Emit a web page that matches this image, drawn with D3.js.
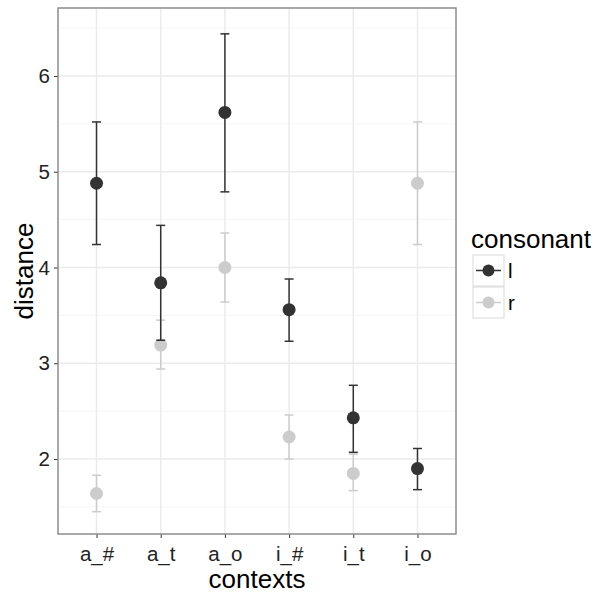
<!DOCTYPE html>
<html>
<head>
<meta charset="utf-8">
<script src="https://cdn.jsdelivr.net/npm/d3@7"></script>
<style>
  body { margin: 0; background: #fff; }
  text { font-family: "Liberation Sans", Arial, sans-serif; }
</style>
</head>
<body>
<svg id="vis"></svg>
<script>
// contexts on the x axis
const contexts = ["a_#", "a_t", "a_o", "i_#", "i_t", "i_o"];
const consonants = ["l", "r"];

// mean distance + error bar limits per consonant
const lMean  = [4.88, 3.84, 5.62, 3.56, 2.43, 1.90];
const lLower = [4.24, 3.24, 4.79, 3.23, 2.07, 1.68];
const lUpper = [5.52, 4.44, 6.44, 3.88, 2.77, 2.11];

const rMean  = [1.64, 3.19, 4.00, 2.23, 1.85, 4.88];
const rLower = [1.45, 2.94, 3.64, 2.00, 1.67, 4.24];
const rUpper = [1.83, 3.45, 4.36, 2.46, 2.05, 5.52];

const yTicks = [2, 3, 4, 5, 6];
const yMinor = [1.5, 2.5, 3.5, 4.5, 5.5, 6.5];

const colors = {l: "#333333", r: "#cccccc"};

const W = 598, H = 597;
const panel = {left: 58, top: 8, right: 456, bottom: 534};

let svg = d3.select("#vis").attr("width", W).attr("height", H);

// discrete x scale with ggplot's 0.6 expansion
let x = d3.scaleLinear()
    .domain([0.4, contexts.length + 0.6])
    .range([panel.left, panel.right]);
let y = d3.scaleLinear()
    .domain([1.217, 6.71])
    .range([panel.bottom, panel.top]);

// grid
let grid = svg.append("g");
grid.selectAll(".minor").data(yMinor).enter().append("line")
    .attr("x1", panel.left).attr("x2", panel.right)
    .attr("y1", d => y(d)).attr("y2", d => y(d))
    .attr("stroke", "#f5f5f5").attr("stroke-width", 1);
grid.selectAll(".majorY").data(yTicks).enter().append("line")
    .attr("x1", panel.left).attr("x2", panel.right)
    .attr("y1", d => y(d)).attr("y2", d => y(d))
    .attr("stroke", "#ebebeb").attr("stroke-width", 1.5);
grid.selectAll(".majorX").data(contexts).enter().append("line")
    .attr("x1", (d, i) => x(i + 1)).attr("x2", (d, i) => x(i + 1))
    .attr("y1", panel.top).attr("y2", panel.bottom)
    .attr("stroke", "#ebebeb").attr("stroke-width", 1.5);

// axes
let yAxis = d3.axisLeft(y).tickValues(yTicks).tickSize(4).tickPadding(4).tickFormat(d3.format("d"));
let gy = svg.append("g").attr("transform", "translate(" + panel.left + ",0)").call(yAxis);
let xAxis = d3.axisBottom(x).tickValues(contexts.map((d, i) => i + 1)).tickSize(4).tickPadding(8)
    .tickFormat(d => contexts[d - 1]);
let gx = svg.append("g").attr("transform", "translate(0," + panel.bottom + ")").call(xAxis);
[gx, gy].forEach(function(g){
    g.select(".domain").remove();
    g.selectAll(".tick line").attr("stroke", "#333333");
    g.selectAll(".tick text").attr("fill", "#222").attr("font-size", "20.5px")
        .style("font-family", "Liberation Sans, Arial, sans-serif");
});
gx.selectAll(".tick text").attr("dy", "0.72em");

// series
let series = [
    {name: "l", mean: lMean, lo: lLower, hi: lUpper},
    {name: "r", mean: rMean, lo: rLower, hi: rUpper}
];
let capHalf = (x(1.07) - x(1));

// draw light (r) first then dark (l) on top
series.slice().reverse().forEach(function(s){
    let g = svg.append("g");
    let col = colors[s.name];
    contexts.forEach(function(c, i){
        let cx = x(i + 1);
        g.append("line").attr("x1", cx).attr("x2", cx)
            .attr("y1", y(s.lo[i])).attr("y2", y(s.hi[i]))
            .attr("stroke", col).attr("stroke-width", 1.5);
        [s.lo[i], s.hi[i]].forEach(function(v){
            g.append("line").attr("x1", cx - capHalf).attr("x2", cx + capHalf)
                .attr("y1", y(v)).attr("y2", y(v))
                .attr("stroke", col).attr("stroke-width", 1.5);
        });
        g.append("circle").attr("cx", cx).attr("cy", y(s.mean[i]))
            .attr("r", 6.5).attr("fill", col);
    });
});

// panel border
svg.append("rect")
    .attr("x", panel.left).attr("y", panel.top)
    .attr("width", panel.right - panel.left).attr("height", panel.bottom - panel.top)
    .attr("fill", "none").attr("stroke", "#8c8c8c").attr("stroke-width", 1.5);

// axis titles
svg.append("text").attr("x", (panel.left + panel.right) / 2).attr("y", 588)
    .attr("text-anchor", "middle").attr("font-size", "26px").text("contexts");
svg.append("text").attr("transform", "translate(33," + ((panel.top + panel.bottom) / 2) + ") rotate(-90)")
    .attr("text-anchor", "middle").attr("font-size", "26px").text("distance");

// legend
let legend = svg.append("g");
legend.append("text").attr("x", 471).attr("y", 248).attr("font-size", "26px").text("consonant");
consonants.forEach(function(c, i){
    let ky = 255 + i * 32;
    legend.append("rect").attr("x", 473).attr("y", ky).attr("width", 31).attr("height", 31)
        .attr("fill", "#fff").attr("stroke", "#d9d9d9").attr("stroke-width", 1);
    legend.append("line").attr("x1", 476).attr("x2", 501)
        .attr("y1", ky + 15.5).attr("y2", ky + 15.5)
        .attr("stroke", colors[c]).attr("stroke-width", 1.5);
    legend.append("circle").attr("cx", 488.5).attr("cy", ky + 15.5).attr("r", 6).attr("fill", colors[c]);
    legend.append("text").attr("x", 508).attr("y", ky + 23).attr("font-size", "20.5px").text(c);
});
</script>
</body>
</html>
